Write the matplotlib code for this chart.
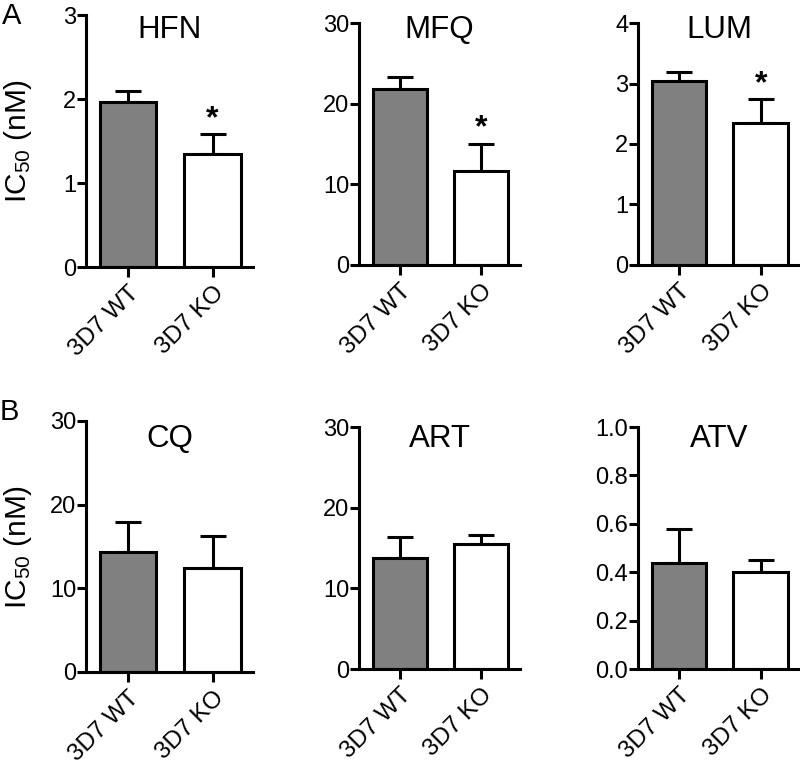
import numpy as np
import matplotlib
matplotlib.use("Agg")
import matplotlib.pyplot as plt

plt.rcParams['font.family'] = ['Liberation Sans', 'DejaVu Sans']
plt.rcParams['mathtext.default'] = 'regular'

# data
strains = ['3D7 WT', '3D7 KO']
drugs = ['HFN', 'MFQ', 'LUM', 'CQ', 'ART', 'ATV']
ic50_mean = [
    [1.97, 1.35],
    [21.8, 11.6],
    [3.04, 2.35],
    [14.3, 12.4],
    [13.7, 15.5],
    [0.44, 0.40],
]
ic50_err = [
    [0.13, 0.23],
    [1.5, 3.4],
    [0.15, 0.39],
    [3.6, 3.9],
    [2.7, 1.1],
    [0.14, 0.05],
]
significant = [True, True, True, False, False, False]
y_max = [3, 30, 4, 30, 30, 1.0]
y_ticks = [
    [0, 1, 2, 3],
    [0, 10, 20, 30],
    [0, 1, 2, 3, 4],
    [0, 10, 20, 30],
    [0, 10, 20, 30],
    [0.0, 0.2, 0.4, 0.6, 0.8, 1.0],
]
bar_colors = ['#808080', 'white']

W, H = 800, 760
fig = plt.figure(figsize=(W / 100, H / 100), dpi=100)

# axes boxes in pixels: left, top, right, bottom
boxes = [
    (86, 15, 253, 267),
    (359, 23, 520, 265),
    (638, 23, 800, 265),
    (86, 421, 253, 672),
    (359, 427, 520, 669),
    (638, 427, 800, 669),
]
title_y = [30, 30, 30, 439, 439, 439]

lw = 2.2
for i, drug in enumerate(drugs):
    l, t, r, b = boxes[i]
    ax = fig.add_axes((l / W, 1 - b / H, (r - l) / W, (b - t) / H))
    x = np.arange(len(strains))
    ax.errorbar(x, ic50_mean[i], yerr=[[0, 0], ic50_err[i]], fmt='none',
                ecolor='black', elinewidth=lw, capsize=9.4, capthick=lw, zorder=2)
    ax.bar(x, ic50_mean[i], width=0.667, color=bar_colors, edgecolor='black',
           linewidth=lw, zorder=3)
    if significant[i]:
        # star over the KO bar
        ax.annotate('*', xy=(1, ic50_mean[i][1] + ic50_err[i][1]),
                    xytext=(0, 11), textcoords='offset points',
                    ha='center', va='center', fontsize=23, fontweight='bold')
    ax.set_xlim(-0.5, 1.48)
    ax.set_ylim(0, y_max[i])
    ax.set_yticks(y_ticks[i])
    if y_max[i] == 1.0:
        ax.set_yticklabels(['%.1f' % v for v in y_ticks[i]])
    ax.set_xticks(x)
    ax.set_xticklabels(strains, rotation=45, ha='right', rotation_mode='anchor')
    for s in ['top', 'right']:
        ax.spines[s].set_visible(False)
    for s in ['left', 'bottom']:
        ax.spines[s].set_linewidth(lw)
        ax.spines[s].set_zorder(4)
    ax.tick_params(axis='y', direction='out', length=6.5, width=lw, labelsize=17, pad=0.5)
    ax.tick_params(axis='x', direction='out', length=7, width=lw, labelsize=17.5, pad=4)
    ax.patch.set_alpha(0)
    fig.text(((l + r) / 2) / W, 1 - title_y[i] / H, drug, ha='center', va='center',
             fontsize=22.5)
    if i % 3 == 0:
        ax.set_ylabel('IC$_{50}$ (nM)', fontsize=21.5)
        ax.yaxis.set_label_coords((34 - l) / (r - l), 0.5)

fig.text(2 / W, 1 - 16 / H, 'A', ha='left', va='center', fontsize=21)
fig.text(0 / W, 1 - 412 / H, 'B', ha='left', va='center', fontsize=21)

fig.savefig('out.png', dpi=100)
